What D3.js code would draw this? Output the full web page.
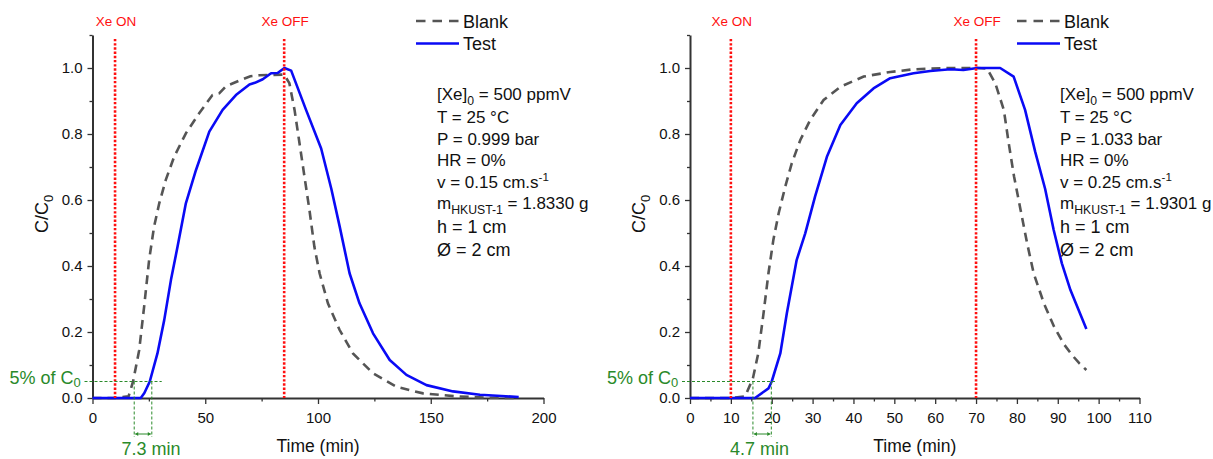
<!DOCTYPE html>
<html><head><meta charset="utf-8">
<script src="https://cdn.jsdelivr.net/npm/d3@7/dist/d3.min.js"></script>
<style>
body{margin:0;background:#fff}
svg{display:block;font-family:"Liberation Sans",Arial,Helvetica,sans-serif}
</style>
</head><body>
<svg id="chart" width="1213" height="459"></svg>
<script>
// ---------------- DATA ----------------
const yMajorTicks = [0, 0.2, 0.4, 0.6, 0.8, 1.0];
const yMinorTicks = [0.1, 0.3, 0.5, 0.7, 0.9, 1.1];
const leftXTicks = [0, 50, 100, 150, 200];
const leftXMinor = [25, 75, 125, 175];
const rightXTicks = [0, 10, 20, 30, 40, 50, 60, 70, 80, 90, 100, 110];
const rightXMinor = [5, 15, 25, 35, 45, 55, 65, 75, 85, 95, 105];
const seriesNames = ["Blank", "Test"];

// Left panel (t in min, C/C0)
const blankLeft = [[0,0],[10,0],[16,0.005],[18,0.05],[20.7,0.145],[22.9,0.277],[25.1,0.418],[27.3,0.519],[29.6,0.59],[32.5,0.661],[36.2,0.731],[41.4,0.802],[47.3,0.863],[53.2,0.918],[56.2,0.923],[59.2,0.945],[65.1,0.962],[70,0.975],[74,0.978],[80,0.979],[85,0.98],[87.3,0.954],[89.6,0.873],[91.8,0.772],[94,0.671],[96.2,0.57],[98.4,0.458],[100.7,0.378],[104.4,0.287],[109.6,0.206],[115.5,0.135],[124.4,0.075],[134.8,0.034],[146.6,0.014],[161.4,0.005],[175,0.001],[188,0]];
const testLeft = [[0,0],[10,0],[21.4,0],[23,0.015],[25.4,0.05],[28.8,0.135],[31.8,0.236],[34.8,0.358],[37.7,0.458],[41.4,0.59],[45.9,0.691],[51.8,0.807],[57.7,0.873],[63.6,0.918],[69.6,0.95],[72,0.955],[75.5,0.966],[79.2,0.984],[82.1,0.985],[85.1,1.0],[88.1,0.992],[94.7,0.873],[101.4,0.756],[105.9,0.634],[109.6,0.52],[114,0.378],[118.4,0.287],[124.4,0.196],[131.8,0.115],[139.2,0.07],[148.1,0.039],[159.9,0.02],[171.8,0.01],[189,0.003]];

// Right panel
const blankRight = [[0,0],[10,0],[13.5,0.005],[15.4,0.06],[16.7,0.135],[18,0.257],[19.2,0.378],[20.4,0.479],[21.7,0.56],[23.3,0.64],[24.9,0.711],[27,0.782],[29.4,0.842],[32.7,0.903],[36.8,0.943],[42.5,0.974],[49,0.988],[54.7,0.996],[62.9,1.0],[70.3,1.0],[72.7,0.998],[74.7,0.954],[76.8,0.873],[78,0.772],[79.3,0.671],[80.9,0.57],[82.5,0.469],[84.1,0.378],[86.6,0.287],[89.1,0.216],[91.5,0.163],[93.5,0.13],[95.3,0.105],[97,0.085]];
const testRight = [[0,0],[10,0],[15.9,0],[19.2,0.029],[20,0.05],[22.1,0.135],[23.7,0.257],[26.1,0.418],[28.2,0.499],[30.6,0.61],[33.5,0.731],[36.8,0.827],[40.8,0.893],[44.9,0.938],[49,0.969],[54.7,0.984],[58.8,0.991],[63.7,0.996],[66.9,0.994],[70.3,1.0],[73.5,1.0],[75.9,1.0],[79.2,0.974],[82,0.873],[84.5,0.745],[86.9,0.634],[89,0.509],[91,0.408],[93.1,0.327],[95,0.27],[97,0.209]];

// Xe switching times (min)
const xeLeft = [10, 85];
const xeRight = [10, 70];
const xeLabels = ["Xe ON", "Xe OFF"];
// 5% breakthrough times (min): blank, test
const breakLeft = [18.5, 26.3];
const breakRight = [15.4, 19.9];
const breakLevel = 0.05;
const gapLabels = ["7.3 min", "4.7 min"];

// Condition texts: segments [text, mode]  mode: n normal, b sub, p sup
const paramsLeft = [
  [["[Xe]","n"],["0","b"],[" = 500 ppmV","n"]],
  [["T = 25 °C","n"]],
  [["P = 0.999 bar","n"]],
  [["HR = 0%","n"]],
  [["v = 0.15 cm.s","n"],["-1","p"]],
  [["m","n"],["HKUST-1","b"],[" = 1.8330 g","n"]],
  [["h = 1 cm","n"]],
  [["Ø = 2 cm","n"]]
];
const paramsRight = [
  [["[Xe]","n"],["0","b"],[" = 500 ppmV","n"]],
  [["T = 25 °C","n"]],
  [["P = 1.033 bar","n"]],
  [["HR = 0%","n"]],
  [["v = 0.25 cm.s","n"],["-1","p"]],
  [["m","n"],["HKUST-1","b"],[" = 1.9301 g","n"]],
  [["h = 1 cm","n"]],
  [["Ø = 2 cm","n"]]
];

// ---------------- DRAW ----------------
const svg = d3.select("#chart");
const GREEN = "#2a8a2a", RED = "#ff1010", BLUE = "#0a0af5", GRAY = "#555555", AX = "#333";

function rich(g, x, y, segs, size, opts = {}) {
  const t = g.append("text").attr("x", x).attr("y", y)
    .attr("font-size", size).attr("fill", opts.fill || "#111")
    .attr("text-anchor", opts.anchor || "start");
  if (opts.transform) t.attr("transform", opts.transform);
  const subK = opts.subK == null ? 0.3 : opts.subK;
  let shift = 0;
  segs.forEach(([s, m]) => {
    const ts = t.append("tspan").text(s);
    let target = 0, fs = size;
    if (m === "b") { target = size * subK; fs = size * 0.72; }
    if (m === "p") { target = -size * 0.4; fs = size * 0.68; }
    ts.attr("dy", target - shift).attr("font-size", fs);
    shift = target;
  });
  return t;
}

function panel(cfg) {
  const x = d3.scaleLinear().domain(cfg.xDomain).range(cfg.xRange);
  const y = d3.scaleLinear().domain([0, 1.1]).range([398, 35]);
  const g = svg.append("g");

  // axes
  g.append("g").attr("transform", "translate(0,398)")
    .call(d3.axisBottom(x).tickValues(cfg.xTicks).tickSize(6).tickSizeOuter(0).tickPadding(8).tickFormat(d3.format("d")));
  g.append("g").attr("transform", "translate(0,398)")
    .call(d3.axisBottom(x).tickValues(cfg.xMinor).tickSize(3.5).tickSizeOuter(0).tickFormat(""))
    .select(".domain").remove();
  g.append("g").attr("transform", `translate(${cfg.xRange[0]},0)`)
    .call(d3.axisLeft(y).tickValues(yMajorTicks).tickSize(5).tickSizeOuter(0).tickPadding(5).tickFormat(d3.format(".1f")));
  g.append("g").attr("transform", `translate(${cfg.xRange[0]},0)`)
    .call(d3.axisLeft(y).tickValues(yMinorTicks).tickSize(3).tickSizeOuter(0).tickFormat(""))
    .select(".domain").remove();
  g.selectAll(".domain").attr("stroke", AX).attr("stroke-width", 2);
  g.selectAll(".tick line").attr("stroke", AX).attr("stroke-width", 1.3);
  g.selectAll(".tick text").attr("font-size", 15).attr("fill", "#111")
    .attr("font-family", '"Liberation Sans",Arial,sans-serif');

  // axis titles
  g.append("text").attr("x", (cfg.xRange[0] + cfg.xRange[1]) / 2).attr("y", 452)
    .attr("text-anchor", "middle").attr("font-size", 17.5).attr("fill", "#111").text("Time (min)");
  rich(g, 0, 0, [["C/C","n"],["0","b"]], 18, {anchor: "middle",
    transform: `translate(${cfg.xRange[0] - 45},214) rotate(-90)`});

  // curves
  const line = d3.line().x(d => x(d[0])).y(d => y(d[1]));
  g.append("path").datum(cfg.blank).attr("d", line).attr("fill", "none")
    .attr("stroke", GRAY).attr("stroke-width", 2.6).attr("stroke-dasharray", "9,6");
  g.append("path").datum(cfg.test).attr("d", line).attr("fill", "none")
    .attr("stroke", BLUE).attr("stroke-width", 2.6).attr("stroke-linejoin", "round");

  // Xe on/off lines
  cfg.xe.forEach((t, i) => {
    g.append("line").attr("x1", x(t)).attr("x2", x(t)).attr("y1", y(1.088)).attr("y2", y(0))
      .attr("stroke", RED).attr("stroke-width", 2.6).attr("stroke-dasharray", "2.4,1.8");
    g.append("text").attr("x", x(t) + 1).attr("y", 26).attr("text-anchor", "middle")
      .attr("font-size", 13.5).attr("fill", RED).text(xeLabels[i]);
  });

  // 5% annotation
  const gy = y(breakLevel);
  g.append("line").attr("x1", cfg.xRange[0] - 8).attr("x2", x(cfg.hEnd)).attr("y1", gy).attr("y2", gy)
    .attr("stroke", GREEN).attr("stroke-width", 1).attr("stroke-dasharray", "3,2");
  cfg.brk.forEach(t => {
    g.append("line").attr("x1", x(t)).attr("x2", x(t)).attr("y1", gy).attr("y2", 437)
      .attr("stroke", GREEN).attr("stroke-width", 1).attr("stroke-dasharray", "3,2");
  });
  const ax1 = x(cfg.brk[0]) + 1, ax2 = x(cfg.brk[1]) - 1, ay = 434;
  g.append("line").attr("x1", ax1).attr("x2", ax2).attr("y1", ay).attr("y2", ay)
    .attr("stroke", GREEN).attr("stroke-width", 1);
  g.append("path").attr("d", `M${ax1},${ay}l3,-2v4z M${ax2},${ay}l-3,-2v4z`).attr("fill", GREEN);
  rich(g, cfg.xRange[0] - 83, 383.5, [["5% of C","n"],["0","b"]], 18, {fill: GREEN, subK: 0.2});
  g.append("text").attr("x", cfg.gapX).attr("y", 455).attr("font-size", 18).attr("fill", GREEN).text(cfg.gap);

  // legend
  const lx = cfg.legendX;
  g.append("line").attr("x1", lx).attr("x2", lx + 43).attr("y1", 21).attr("y2", 21)
    .attr("stroke", GRAY).attr("stroke-width", 2.6).attr("stroke-dasharray", "9.5,7");
  g.append("line").attr("x1", lx).attr("x2", lx + 43).attr("y1", 43.5).attr("y2", 43.5)
    .attr("stroke", BLUE).attr("stroke-width", 2.6);
  g.append("text").attr("x", lx + 47).attr("y", 27.5).attr("font-size", 18).attr("fill", "#111").text(seriesNames[0]);
  g.append("text").attr("x", lx + 47).attr("y", 50).attr("font-size", 18).attr("fill", "#111").text(seriesNames[1]);

  // conditions
  const baselines = [100, 123, 145, 166, 188, 209, 233, 256];
  cfg.params.forEach((segs, i) => {
    rich(g, cfg.paramX, baselines[i], segs, i >= 6 ? 18 : 17);
  });
}

panel({xDomain: [0, 200], xRange: [92.5, 543.5], xTicks: leftXTicks, xMinor: leftXMinor,
  blank: blankLeft, test: testLeft, xe: xeLeft, brk: breakLeft, hEnd: 30.7, gap: gapLabels[0],
  gapX: 121.5, legendX: 416, params: paramsLeft, paramX: 437});
panel({xDomain: [0, 110], xRange: [690, 1139.5], xTicks: rightXTicks, xMinor: rightXMinor,
  blank: blankRight, test: testRight, xe: xeRight, brk: breakRight, hEnd: 21.25, gap: gapLabels[1],
  gapX: 730, legendX: 1017, params: paramsRight, paramX: 1060});
</script>
</body></html>
